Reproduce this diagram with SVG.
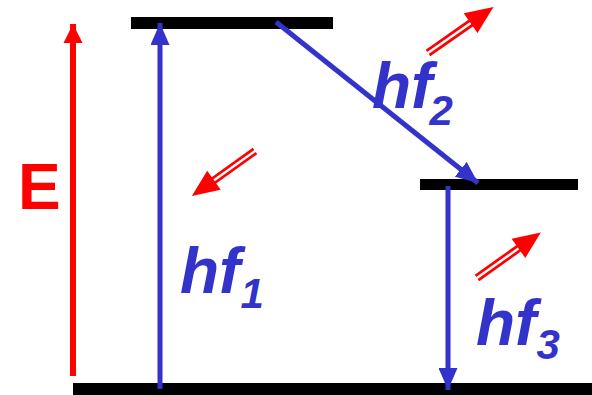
<svg xmlns="http://www.w3.org/2000/svg" width="592" height="395" viewBox="0 0 592 395">
<defs>
<style>
.level{fill:#000}
.blue{stroke:#3333CC;stroke-width:5;fill:none}
.red{stroke:#FF0000;stroke-width:6;fill:none}
.lbl{font-family:"Liberation Sans",Arial,sans-serif;font-weight:bold;font-style:italic;fill:#3333CC}
.dbl-out{stroke:#FF0000;stroke-width:8;fill:none}
.dbl-in{stroke:#FFFFFF;stroke-width:2.5;fill:none}
</style>
<marker id="hb" markerWidth="4.4" markerHeight="3.8" refX="4.4" refY="1.9" orient="auto" markerUnits="strokeWidth" viewBox="0 0 4.4 3.8"><path d="M0,0 L4.4,1.9 L0,3.8 z" fill="#3333CC"/></marker>
<marker id="hr" markerWidth="3.2" markerHeight="3.2" refX="3.2" refY="1.6" orient="auto" markerUnits="strokeWidth" viewBox="0 0 3.2 3.2"><path d="M0,0 L3.2,1.6 L0,3.2 z" fill="#FF0000"/></marker>
<g id="dbl">
<line class="dbl-out" x1="0" y1="0" x2="56" y2="0"/>
<line class="dbl-in" x1="-1" y1="0" x2="58" y2="0"/>
<path d="M52,-12 L80,0 L52,12 z" fill="#FF0000"/>
</g>
</defs>
<g id="levels">
<rect id="level-top" class="level" x="131" y="17" width="202" height="12"/>
<rect id="level-mid" class="level" x="420" y="179" width="158" height="11"/>
<rect id="level-bottom" class="level" x="73" y="383" width="519" height="12"/>
</g>
<g id="connectors">
<line class="red" x1="73" y1="376" x2="73" y2="24" marker-end="url(#hr)"/>
<line class="blue" x1="160" y1="389" x2="160" y2="23" marker-end="url(#hb)"/>
<line class="blue" x1="276" y1="22" x2="478" y2="183" marker-end="url(#hb)"/>
<line class="blue" x1="448" y1="186" x2="448" y2="390" marker-end="url(#hb)"/>
</g>
<g id="photon1"><use href="#dbl" transform="translate(255,151) rotate(144.5) scale(0.97)"/></g>
<g id="photon2"><use href="#dbl" transform="translate(428,53) rotate(-35) scale(1.0)"/></g>
<g id="photon3"><use href="#dbl" transform="translate(477,278) rotate(-35.5) scale(0.98)"/></g>
<g id="label-E"><text x="18" y="209" font-family="Liberation Sans,Arial,sans-serif" font-weight="bold" font-size="64" fill="#FF0000">E</text></g>
<g id="label-hf1"><text class="lbl" x="180" y="293" font-size="64">hf<tspan font-size="42" dy="15">1</tspan></text></g>
<g id="label-hf2"><text class="lbl" x="372" y="108" font-size="64">hf<tspan font-size="42" dy="17" dx="-3">2</tspan></text></g>
<g id="label-hf3"><text class="lbl" x="476" y="345" font-size="64">hf<tspan font-size="42" dy="14">3</tspan></text></g>
</svg>
